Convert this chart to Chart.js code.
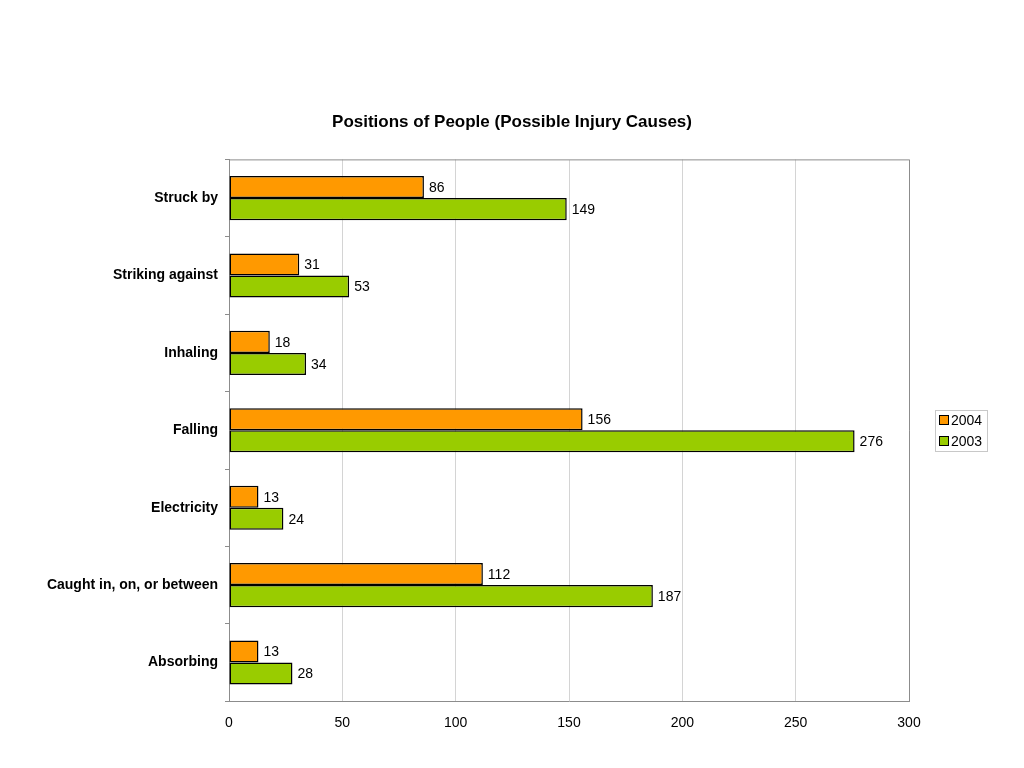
<!DOCTYPE html>
<html>
<head>
<meta charset="utf-8">
<script src="https://cdn.jsdelivr.net/npm/chart.js@4/dist/chart.umd.min.js"></script>
<style>
  html, body { margin:0; padding:0; background:#fff; }
  #wrap { width:1024px; height:768px; }
</style>
</head>
<body>
<div id="wrap"><canvas id="chart" width="1024" height="768"></canvas></div>
<script>
// chart data
const categories = ['Struck by', 'Striking against', 'Inhaling', 'Falling', 'Electricity', 'Caught in, on, or between', 'Absorbing'];
const series2004 = [86, 31, 18, 156, 13, 112, 13];
const series2003 = [149, 53, 34, 276, 24, 187, 28];
const xTicks = [0, 50, 100, 150, 200, 250, 300];

const FONT = '"Liberation Sans", Arial, Helvetica, sans-serif';

// value labels at the end of each bar
const valueLabels = {
  id: 'valueLabels',
  afterDatasetsDraw(chart){
    const ctx = chart.ctx;
    ctx.save();
    ctx.font = '14px ' + FONT;
    ctx.fillStyle = '#000';
    ctx.textAlign = 'left';
    ctx.textBaseline = 'middle';
    chart.data.datasets.forEach((ds, i)=>{
      chart.getDatasetMeta(i).data.forEach((bar, j)=>{
        ctx.fillText(String(ds.data[j]), bar.x + 5, bar.y + 1);
      });
    });
    ctx.restore();
  }
};

// gray frame around the plot area
const plotFrame = {
  id: 'plotFrame',
  afterDraw(chart){
    const a = chart.chartArea, ctx = chart.ctx;
    ctx.save();
    ctx.strokeStyle = '#8c8c8c';
    ctx.lineWidth = 1;
    ctx.beginPath();
    ctx.moveTo(a.left + 0.5, a.top + 0.5);
    ctx.lineTo(a.right + 0.5, a.top + 0.5);
    ctx.lineTo(a.right + 0.5, a.bottom + 0.5);
    ctx.stroke();
    ctx.restore();
  }
};

// boxed legend on the right
const boxLegend = {
  id: 'boxLegend',
  afterDraw(chart){
    const ctx = chart.ctx;
    const x = 935.5, y = 410.5, w = 52, h = 41;
    ctx.save();
    ctx.strokeStyle = '#c8c8c8';
    ctx.lineWidth = 1;
    ctx.strokeRect(x, y, w, h);
    ctx.font = '14px ' + FONT;
    ctx.textBaseline = 'middle';
    ctx.textAlign = 'left';
    chart.data.datasets.forEach((ds, i)=>{
      const cy = 420 + i * 21;
      ctx.fillStyle = ds.backgroundColor;
      ctx.fillRect(939.5, cy - 4.5, 9, 9);
      ctx.strokeStyle = '#000';
      ctx.strokeRect(939.5, cy - 4.5, 9, 9);
      ctx.fillStyle = '#000';
      ctx.fillText(ds.label, 951, cy + 1);
    });
    ctx.restore();
  }
};

new Chart(document.getElementById('chart'), {
  type: 'bar',
  data: {
    labels: categories,
    datasets: [
      { label: '2004', data: series2004, backgroundColor: '#FF9900', borderColor: '#000', borderWidth: 1.5, borderSkipped: false },
      { label: '2003', data: series2003, backgroundColor: '#99CC00', borderColor: '#000', borderWidth: 1.5, borderSkipped: false }
    ]
  },
  options: {
    indexAxis: 'y',
    responsive: false,
    animation: false,
    categoryPercentage: 0.57,
    barPercentage: 1,
    layout: { padding: { left: 0, right: 0, top: 0, bottom: 22 } },
    plugins: {
      legend: { display: false },
      tooltip: { enabled: false },
      title: {
        display: true,
        text: 'Positions of People (Possible Injury Causes)',
        color: '#000',
        font: { family: FONT, size: 17, weight: 'bold', lineHeight: 1.2 },
        padding: { top: 112, bottom: 27 }
      }
    },
    scales: {
      x: {
        min: 0, max: 300,
        afterBuildTicks(scale){ scale.ticks = xTicks.map(v=>({ value: v })); },
        ticks: { color: '#000', font: { family: FONT, size: 14 }, padding: 14, maxRotation: 0 },
        grid: { color: '#d4d4d4', drawTicks: false },
        border: { color: '#8c8c8c' }
      },
      y: {
        afterFit(scale){ scale.width = 229; },
        ticks: { color: '#000', font: { family: FONT, size: 14, weight: 'bold' }, padding: 7 },
        grid: { drawOnChartArea: false, tickLength: 4, color: '#8c8c8c' },
        border: { color: '#8c8c8c' }
      },
      // empty right-hand strip that holds the legend
      side: {
        type: 'linear',
        position: 'right',
        afterFit(scale){ scale.width = 115; },
        ticks: { display: false },
        grid: { display: false },
        border: { display: false }
      }
    }
  },
  plugins: [valueLabels, plotFrame, boxLegend]
});
</script>
</body>
</html>
